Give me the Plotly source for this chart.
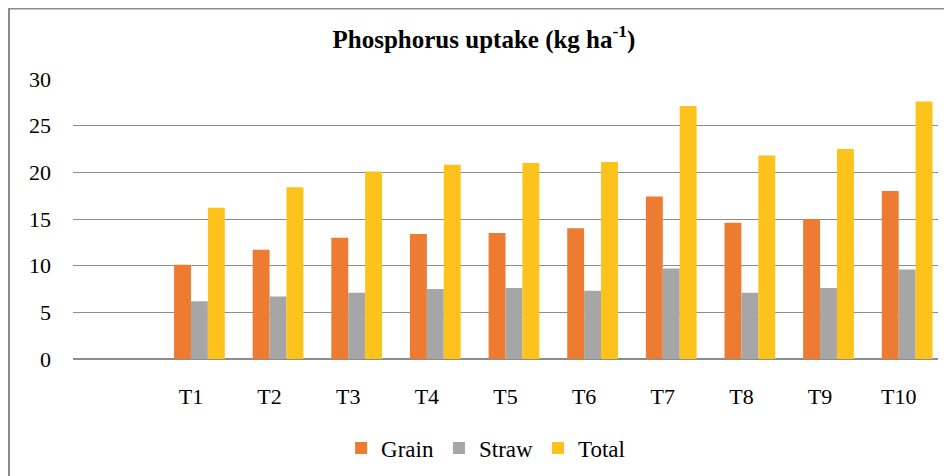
import plotly.graph_objects as go

categories = ["T1", "T2", "T3", "T4", "T5", "T6", "T7", "T8", "T9", "T10"]
grain = [10.1, 11.7, 13.0, 13.4, 13.5, 14.0, 17.4, 14.6, 15.0, 18.0]
straw = [6.2, 6.7, 7.1, 7.5, 7.6, 7.3, 9.7, 7.1, 7.6, 9.6]
total = [16.2, 18.4, 20.1, 20.8, 21.0, 21.1, 27.1, 21.8, 22.5, 27.6]
y_ticks = [0, 5, 10, 15, 20, 25, 30]

font_family = "Liberation Serif, Times New Roman, serif"
bw = 0.215

fig = go.Figure()
fig.add_trace(go.Bar(x=categories, y=grain, name="Grain", width=bw, offset=-bw,
                     marker=dict(color="#EE7B32", line=dict(width=0))))
fig.add_trace(go.Bar(x=categories, y=straw, name="Straw", width=bw, offset=0,
                     marker=dict(color="#A6A6A6", line=dict(width=0))))
fig.add_trace(go.Bar(x=categories, y=total, name="Total", width=bw, offset=bw,
                     marker=dict(color="#FEC21C", line=dict(width=0))))

fig.update_layout(
    width=952, height=476,
    paper_bgcolor="white", plot_bgcolor="white",
    margin=dict(l=65, r=22, t=71, b=125),
    font=dict(family=font_family, size=22, color="black"),
    title=dict(text="<b>Phosphorus uptake (kg ha<sup>-1</sup>)</b>", x=0.5, xref="container",
               xanchor="center", y=1 - 31 / 476, yanchor="middle",
               font=dict(family=font_family, size=25, color="black")),
    barmode="overlay",
    showlegend=True,
    legend=dict(orientation="h", x=0.477, xanchor="center", y=-0.318, yanchor="middle",
                font=dict(family=font_family, size=23), itemwidth=30, traceorder="normal"),
    shapes=[dict(type="rect", xref="paper", yref="paper",
                 x0=-64 / 865, x1=1 + 40 / 865, y0=-160 / 280, y1=1 + 70.5 / 280,
                 line=dict(color="#8C8C8C", width=2), fillcolor="rgba(0,0,0,0)", layer="below")],
)
fig.update_xaxes(type="category", categoryorder="array", categoryarray=categories,
                 range=[-1.5, 9.5], showgrid=False, showline=False, zeroline=False,
                 ticks="", ticklabelstandoff=22, tickfont=dict(family=font_family, size=22))
fig.update_yaxes(range=[0, 30], tickvals=y_ticks, showgrid=True, gridcolor="#8C8C8C",
                 gridwidth=1, zeroline=True, zerolinecolor="#8C8C8C", zerolinewidth=2,
                 showline=False, ticks="", ticklabelstandoff=21,
                 tickfont=dict(family=font_family, size=22))

fig.write_html("out.html")
